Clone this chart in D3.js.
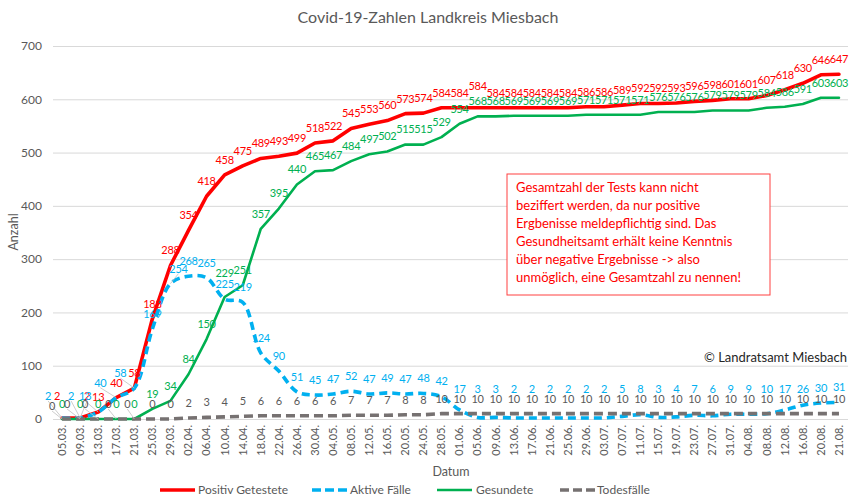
<!DOCTYPE html>
<html>
<head>
<meta charset="utf-8">
<script src="https://cdn.jsdelivr.net/npm/d3@7"></script>
<style>
  html, body { margin: 0; padding: 0; background: #fff; }
  svg { display: block; font-family: Lato, "Open Sans", sans-serif; }
</style>
</head>
<body>
<svg id="chart" width="856" height="502"></svg>
<script>
// ---- data ----
const dates = ["05.03.","09.03.","13.03.","17.03.","21.03.","25.03.","29.03.","02.04.","06.04.","10.04.","14.04.","18.04.","22.04.","26.04.","30.04.","04.05.","08.05.","12.05.","16.05.","20.05.","24.05.","28.05.","01.06.","05.06.","09.06.","13.06.","17.06.","21.06.","25.06.","29.06.","03.07.","07.07.","11.07.","15.07.","19.07.","23.07.","27.07.","31.07.","04.08.","08.08.","12.08.","16.08.","20.08.","21.08."];
const positive = [2,2,13,40,58,188,288,354,418,458,475,489,493,499,518,522,545,553,560,573,574,584,584,584,584,584,584,584,584,586,586,589,592,592,593,596,598,601,601,607,618,630,646,647];
const active = [2,2,13,40,58,169,254,268,265,225,219,124,90,51,45,47,52,47,49,47,48,42,17,3,3,2,2,2,2,2,2,5,8,3,4,7,6,9,9,10,17,26,30,31];
const recovered = [0,0,0,0,0,19,34,84,150,229,251,357,395,440,465,467,484,497,502,515,515,529,554,568,568,569,569,569,569,571,571,571,571,576,576,576,579,579,579,584,586,591,603,603];
const deaths = [0,0,0,0,0,0,0,2,3,4,5,6,6,6,6,6,7,7,7,8,8,10,10,10,10,10,10,10,10,10,10,10,10,10,10,10,10,10,10,10,10,10,10,10];
const yTicks = [0,100,200,300,400,500,600,700];
const seriesNames = ["Positiv Getestete","Aktive Fälle","Gesundete","Todesfälle"];
const titleText = "Covid-19-Zahlen Landkreis Miesbach";
const noteLines = ["Gesamtzahl der Tests kann nicht","beziffert werden, da nur positive","Ergbenisse meldepflichtig sind. Das","Gesundheitsamt erhält keine Kenntnis","über negative Ergebnisse -> also","unmöglich, eine Gesamtzahl zu nennen!"];
const copyrightText = "© Landratsamt Miesbach";

// ---- styling / layout ----
const styles = [
  {color:"#FF0000", labelColor:"#FF0000", width:3.6, dash:null, curve:d3.curveLinear},
  {color:"#00B0F0", labelColor:"#00B0F0", width:3.6, dash:"8,5", curve:d3.curveCatmullRom.alpha(0.5)},
  {color:"#00B050", labelColor:"#00B050", width:2.6, dash:null, curve:d3.curveLinear},
  {color:"#767171", labelColor:"#595959", width:3.6, dash:"9,5", curve:d3.curveLinear}
];
// manual label nudges (like the moved data labels in the original)
const nudges = [
  {0:[-5,-7],1:[7,-7],23:[0,-7]},
  {0:[-14,-7],1:[-9,-7],2:[-13,-1],3:[-16,0],4:[-14,0],6:[8,0]},
  {9:[0,-9]},
  {0:[-10,2],1:[-13,0],2:[-13,0],3:[-8,0],4:[-7,0]}
];
const seriesData = [positive, active, recovered, deaths];

const svg = d3.select("#chart");
const pLeft = 53, pRight = 848, pTop = 46, pBottom = 419;
const x = d3.scaleBand().domain(dates).range([pLeft, pRight]).padding(0);
const cx = d => x(d) + x.bandwidth() / 2;
const y = d3.scaleLinear().domain([0, 700]).range([pBottom, pTop]);

// title
svg.append("text").attr("x", 428).attr("y", 23).attr("text-anchor", "middle")
  .attr("fill", "#595959").style("font-size", "16px").text(titleText);

// gridlines
svg.append("g").attr("transform", `translate(${pLeft},0)`)
  .call(d3.axisLeft(y).tickValues(yTicks).tickSize(-(pRight - pLeft)).tickFormat(""))
  .call(g => g.select(".domain").remove())
  .call(g => g.selectAll("line").attr("stroke", "#D9D9D9").attr("stroke-width", 1));

// y axis labels
svg.append("g").attr("transform", `translate(${pLeft},0)`)
  .call(d3.axisLeft(y).tickValues(yTicks).tickSize(0).tickPadding(11))
  .call(g => g.select(".domain").remove())
  .call(g => g.selectAll("text").attr("fill", "#595959").style("font-size", "12px").style("font-family", "Lato"));

// x axis labels
svg.append("g").attr("transform", `translate(0,${pBottom})`)
  .call(d3.axisBottom(x).tickSize(0))
  .call(g => g.select(".domain").remove())
  .call(g => g.selectAll("text")
    .attr("transform", "rotate(-90)")
    .attr("x", -6).attr("y", 0).attr("dy", "0.35em")
    .style("text-anchor", "end").attr("fill", "#595959")
    .style("font-size", "11px").style("font-family", "Lato"));

// axis titles
svg.append("text").attr("transform", "translate(18,232) rotate(-90)")
  .attr("text-anchor", "middle").attr("fill", "#595959").style("font-size", "12.5px").text("Anzahl");
svg.append("text").attr("x", 451).attr("y", 476).attr("text-anchor", "middle")
  .attr("fill", "#595959").style("font-size", "12.5px").text("Datum");

// lines
seriesData.forEach((vals, si) => {
  const st = styles[si];
  const line = d3.line().x((v, i) => cx(dates[i])).y(v => y(v)).curve(st.curve);
  const p = svg.append("path").datum(vals).attr("d", line)
    .attr("fill", "none").attr("stroke", st.color).attr("stroke-width", st.width)
    .attr("stroke-linejoin", "round");
  if (st.dash) p.attr("stroke-dasharray", st.dash).attr("stroke-linecap", "butt");
  else p.attr("stroke-linecap", "round");
});

// data labels
const leaderG = svg.append("g");
seriesData.forEach((vals, si) => {
  const st = styles[si];
  const g = svg.append("g");
  vals.forEach((v, i) => {
    const px = cx(dates[i]), py = y(v);
    let ly = py - 15;
    if (si === 1 && i >= 20) ly = Math.min(ly, 389);
    let lx = px;
    const n = nudges[si][i];
    if (n) { lx += n[0]; ly += n[1]; }
    if (n && Math.abs(n[0]) > 5) {
      leaderG.append("line").attr("x1", lx).attr("y1", ly + 5).attr("x2", px).attr("y2", py)
        .attr("stroke", "#BFBFBF").attr("stroke-width", 0.8);
    }
    g.append("text").attr("x", lx).attr("y", ly).attr("dy", "0.35em")
      .attr("text-anchor", "middle").attr("fill", st.labelColor)
      .style("font-size", "11px").style("letter-spacing", "-0.3px").text(v);
  });
});

// note box
const box = svg.append("g");
box.append("rect").attr("x", 507).attr("y", 174).attr("width", 263).attr("height", 121)
  .attr("fill", "#fff").attr("stroke", "#FF4040").attr("stroke-width", 1);
noteLines.forEach((t, i) => {
  box.append("text").attr("x", 516).attr("y", 192 + i * 18)
    .attr("fill", "#FF0000").style("font-size", "13px").text(t);
});

// copyright
svg.append("text").attr("x", 847).attr("y", 362).attr("text-anchor", "end")
  .attr("fill", "#262626").style("font-size", "13px").text(copyrightText);

// legend
const legendPos = [{x:160, tx:198}, {x:312, tx:350}, {x:437, tx:476}, {x:560, tx:597}];
const lg = svg.append("g");
seriesNames.forEach((name, si) => {
  const st = styles[si], lp = legendPos[si];
  const l = lg.append("line").attr("x1", lp.x).attr("x2", lp.x + 35).attr("y1", 490).attr("y2", 490)
    .attr("stroke", st.color).attr("stroke-width", st.width);
  if (st.dash) l.attr("stroke-dasharray", "9,4");
  lg.append("text").attr("x", lp.tx).attr("y", 490).attr("dy", "0.35em")
    .attr("fill", "#595959").style("font-size", "12px").text(name);
});
</script>
</body>
</html>
